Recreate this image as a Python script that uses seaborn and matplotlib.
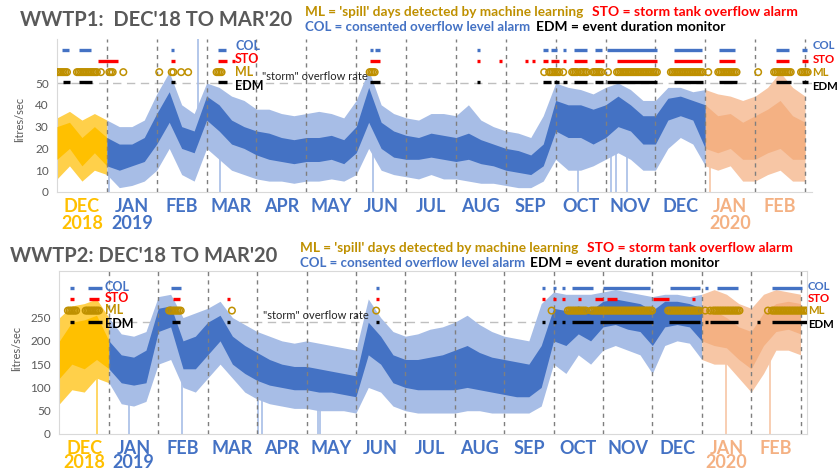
import numpy as np
import seaborn as sns
import matplotlib.pyplot as plt

sns.set_style('white')
plt.rcParams['font.family'] = ['Lato', 'DejaVu Sans']

W, H = 838, 472

# x axis is in months: 0 = 1 Dec 2018 ... 15 = 1 Mar 2020, sampled every quarter month
steps = np.arange(0, 15.01, 0.25)
month_labels = ['DEC\n2018', 'JAN\n2019', 'FEB', 'MAR', 'APR', 'MAY', 'JUN', 'JUL',
                'AUG', 'SEP', 'OCT', 'NOV', 'DEC', 'JAN\n2020', 'FEB']

# WWTP1 flow (litres/sec): outer spikes (lo/hi) and dense core (core_lo/core_hi)
wwtp1_lo = [6, 12, 5, 10, 8, 2, 3, 5, 10, 20, 8, 5, 20, 15, 10, 8, 6, 5, 5, 4, 5, 5, 6, 5,
            8, 20, 10, 8, 7, 6, 8, 6, 6, 5, 4, 4, 3, 2, 2, 5, 15, 10, 10, 12, 15, 18, 15, 10,
            10, 20, 25, 22, 12, 10, 12, 5, 5, 8, 10, 5, 5]
wwtp1_core_lo = [15, 20, 12, 18, 12, 10, 12, 14, 22, 32, 20, 18, 33, 28, 22, 20, 17, 15, 14,
                 13, 14, 14, 15, 13, 18, 32, 20, 16, 15, 15, 16, 15, 14, 15, 13, 12, 10, 9, 8,
                 12, 28, 25, 25, 22, 25, 30, 28, 22, 22, 33, 35, 33, 20, 18, 20, 15, 15, 18,
                 20, 15, 15]
wwtp1_core_hi = [30, 32, 25, 30, 25, 22, 22, 25, 36, 46, 30, 28, 44, 40, 33, 30, 28, 27, 25,
                 24, 25, 25, 26, 24, 30, 48, 32, 28, 26, 25, 27, 26, 25, 27, 24, 22, 20, 19, 17,
                 22, 42, 40, 40, 38, 40, 44, 40, 35, 35, 43, 44, 42, 40, 35, 36, 32, 35, 38,
                 42, 35, 32]
wwtp1_hi = [34, 37, 33, 36, 33, 30, 30, 33, 45, 55, 40, 36, 50, 48, 44, 42, 38, 38, 36, 35,
            36, 37, 36, 34, 42, 56, 40, 36, 34, 33, 36, 36, 35, 40, 33, 30, 28, 27, 25, 35,
            50, 48, 47, 45, 48, 50, 47, 42, 42, 48, 48, 46, 47, 45, 44, 42, 44, 48, 55, 48, 44]
# single readings that stand out of the band (position, bottom, top)
wwtp1_line_x = [1.05, 2.83, 3.27, 6.34, 10.45, 11.1, 11.2, 11.43, 13.1]
wwtp1_line_lo = [0, 12, 0, 0, 0, 0, 0, 0, 0]
wwtp1_line_hi = [25, 70, 40, 45, 40, 40, 38, 35, 30]

# WWTP2 flow (litres/sec)
wwtp2_lo = [65, 95, 90, 120, 110, 65, 60, 70, 150, 160, 100, 90, 120, 150, 120, 90, 75, 65,
            60, 55, 55, 50, 50, 50, 45, 100, 90, 60, 50, 45, 45, 45, 45, 50, 50, 45, 45, 45,
            45, 60, 150, 130, 170, 150, 180, 190, 180, 170, 130, 190, 200, 195, 160, 150,
            150, 120, 90, 130, 180, 180, 170]
wwtp2_core_lo = [120, 150, 140, 160, 140, 110, 105, 110, 220, 230, 140, 140, 170, 200, 150,
                 130, 115, 105, 100, 95, 95, 90, 90, 85, 80, 170, 150, 110, 100, 95, 95, 95,
                 95, 100, 95, 90, 85, 80, 80, 100, 200, 190, 215, 200, 230, 235, 225, 220,
                 190, 230, 235, 230, 200, 190, 185, 160, 140, 190, 220, 225, 215]
wwtp2_core_hi = [200, 240, 245, 255, 200, 170, 165, 180, 270, 275, 200, 210, 240, 255, 210,
                 190, 175, 160, 150, 145, 145, 140, 135, 130, 125, 240, 210, 170, 160, 160,
                 165, 170, 180, 190, 175, 165, 160, 155, 150, 190, 270, 265, 275, 265, 285,
                 290, 285, 280, 265, 285, 285, 280, 270, 265, 250, 230, 220, 260, 280, 285, 280]
wwtp2_hi = [250, 275, 280, 290, 250, 215, 210, 220, 295, 300, 250, 260, 270, 285, 250, 235,
            220, 210, 200, 195, 200, 195, 190, 185, 180, 290, 250, 220, 210, 215, 225, 230,
            240, 255, 235, 220, 210, 205, 200, 280, 305, 300, 300, 300, 305, 310, 305, 300,
            295, 300, 300, 295, 300, 310, 300, 280, 270, 300, 310, 305, 300]
wwtp2_line_x = [0.75, 1.4, 2.47, 4.02, 4.1, 5.24, 5.27, 13.5, 14.38]
wwtp2_line_lo = [0, 0, 0, 0, 0, 0, 0, 0, 0]
wwtp2_line_hi = [250, 120, 160, 120, 120, 80, 80, 200, 250]

# alarm / detection spans (start month, end month)
wwtp1_col = [(0.11, 0.25), (0.44, 0.68), (2.29, 2.35), (3.23, 3.39), (6.28, 6.34), (6.38, 6.48),
             (8.43, 8.43), (9.75, 9.85), (9.9, 10.03), (10.15, 10.15), (10.37, 10.63),
             (10.79, 10.93), (11.03, 12.03), (12.37, 12.94), (13.28, 13.6), (14.42, 14.68),
             (14.94, 15.04)]
wwtp1_sto = [(0.82, 1.23), (2.29, 2.37), (3.23, 3.4), (3.5, 3.5), (6.28, 6.48), (8.43, 8.43),
             (8.87, 8.87), (9.39, 9.39), (9.53, 9.53), (9.75, 9.85), (9.9, 10.06),
             (10.15, 10.15), (10.37, 10.63), (10.79, 10.97), (11.23, 12.03), (12.37, 12.94),
             (13.28, 13.6), (14.42, 14.68), (14.94, 15.05)]
wwtp1_ml = [(0.0, 0.2), (0.4, 0.8), (0.88, 0.88), (1.05, 1.12), (1.33, 1.33), (2.05, 2.05),
            (2.3, 2.36), (2.49, 2.49), (2.63, 2.63), (3.2, 3.3), (6.27, 6.4), (9.77, 9.77),
            (9.87, 10.09), (10.15, 10.15), (10.33, 10.43), (10.49, 10.65), (10.75, 10.93),
            (11.05, 11.05), (11.23, 12.03), (12.31, 12.96), (13.06, 13.06), (13.26, 13.63),
            (14.06, 14.06), (14.38, 14.72), (14.92, 15.08)]
wwtp1_edm = [(0.12, 0.27), (0.44, 0.7), (2.28, 2.37), (3.23, 3.4), (6.28, 6.48), (8.43, 8.43),
             (9.75, 9.9), (9.96, 10.06), (10.15, 10.23), (10.37, 10.63), (10.79, 10.95),
             (11.03, 12.03), (12.37, 12.96), (13.28, 13.63), (14.42, 14.72), (14.94, 15.05)]

wwtp2_col = [(0.21, 0.29), (0.58, 0.86), (2.25, 2.46), (6.41, 6.41), (9.76, 9.76), (9.99, 9.99),
             (10.17, 10.17), (10.37, 10.8), (11.0, 11.95), (12.36, 12.97), (13.07, 13.07),
             (13.31, 13.73), (14.42, 15.03)]
wwtp2_sto = [(0.21, 0.29), (0.6, 0.8), (2.3, 2.44), (3.4, 3.4), (6.41, 6.41), (9.76, 9.76),
             (9.99, 9.99), (10.17, 10.17), (10.49, 10.49), (10.84, 11.0), (11.08, 11.28),
             (12.01, 12.34), (12.8, 12.87)]
wwtp2_ml = [(0.17, 0.35), (0.53, 0.81), (2.22, 2.48), (3.49, 3.49), (6.41, 6.41), (9.96, 9.96),
            (10.29, 10.68), (10.76, 12.01), (12.32, 12.97), (13.07, 13.07), (13.17, 13.17),
            (13.23, 13.77), (14.34, 14.34), (14.42, 15.13)]
wwtp2_edm = [(0.21, 0.3), (0.58, 0.86), (2.27, 2.44), (3.4, 3.4), (6.41, 6.41), (9.76, 9.76),
             (9.99, 9.99), (10.17, 10.17), (10.37, 10.8), (10.94, 12.01), (12.34, 12.97),
             (13.07, 13.07), (13.17, 13.73), (14.12, 14.12), (14.42, 15.13)]

BLUE = '#4472C4'
GOLD = '#FFC000'
PEACH = '#F4B183'
ML_C = '#BF9000'
GREY = '#595959'
# (start, end, core colour, spike colour)
segments = [(0, 1, GOLD, '#FFD04A'), (1, 13, BLUE, '#A7BDE6'), (13, 15, PEACH, '#F7C6A5')]


def seg_color(m):
    for s, e, dark, light in segments:
        if s <= m < e:
            return dark, light
    return segments[-1][2], segments[-1][3]


def draw_panel(ax, lo, core_lo, core_hi, hi, lx, llo, lhi, storm, storm_txt_y,
               col, sto, ml, edm, rows, lab_rows, inner_x, ymax):
    x = steps
    for s, e, dark, light in segments:
        i0, i1 = int(s * 4), int(e * 4) + 1
        ax.fill_between(x[i0:i1], np.array(lo[i0:i1]), np.array(hi[i0:i1]),
                        color=light, lw=0, zorder=2)
        ax.fill_between(x[i0:i1], np.array(core_lo[i0:i1]), np.array(core_hi[i0:i1]),
                        color=dark, lw=0, zorder=3)
    for xi, a, b in zip(lx, llo, lhi):
        ax.vlines(xi, a, b, colors=seg_color(xi)[1], lw=1.2, zorder=2.5)

    ax.axhline(storm, color='#BFBFBF', ls=(0, (6, 4)), lw=1, zorder=1)
    ax.vlines(np.arange(1, 16), 0, ymax, colors='#7F7F7F', linestyles=(0, (3, 3)),
              lw=1, zorder=4)

    for spans, y, c in [(col, rows[0], BLUE), (sto, rows[1], 'red'), (edm, rows[3], 'black')]:
        for s, e in spans:
            ax.hlines(y, s, max(e, s + 0.06), colors=c, lw=2.4, zorder=6)
    xs = np.concatenate([np.arange(s, e + 1e-6, 1 / 30) for s, e in ml])
    sns.scatterplot(x=xs, y=np.full(len(xs), rows[2]), ax=ax, s=22, marker='o',
                    facecolors='none', edgecolor=ML_C, linewidth=1.1, zorder=7, legend=False)

    for txt, c, y in zip(['COL', 'STO', 'ML', 'EDM'], [BLUE, 'red', ML_C, 'black'], lab_rows):
        ax.text(inner_x, y, txt, color=c, fontsize=9, weight='bold', va='center', zorder=8)
        ax.text(15.15, y, txt, color=c, fontsize=8.2, weight='bold', va='center', clip_on=False)
    ax.text(4.11, storm_txt_y, '"storm" overflow rate', fontsize=8, color='#222222',
            va='center', zorder=8)

    ax.set_ylim(0, ymax)
    ax.set_xticks(np.arange(15) + 0.5)
    ax.set_xticklabels(month_labels)
    for i, t in enumerate(ax.get_xticklabels()):
        t.set_color(GOLD if i == 0 else (PEACH if i >= 13 else BLUE))
        t.set_fontsize(13)
        t.set_fontweight('bold')
        t.set_va('top')
    ax.tick_params(axis='both', length=0)
    ax.tick_params(axis='y', labelsize=8.5, labelcolor=GREY, pad=6)
    ax.tick_params(axis='x', pad=4)
    for sp in ax.spines.values():
        sp.set_color('#D9D9D9')


fig = plt.figure(figsize=(W / 100, H / 100), dpi=100)
ax1 = fig.add_axes([57 / W, 1 - 192 / H, 755 / W, 153 / H])
ax2 = fig.add_axes([59 / W, 1 - 434 / H, 748 / W, 163 / H])

draw_panel(ax1, wwtp1_lo, wwtp1_core_lo, wwtp1_core_hi, wwtp1_hi, wwtp1_line_x,
           wwtp1_line_lo, wwtp1_line_hi, 50, 53, wwtp1_col, wwtp1_sto, wwtp1_ml, wwtp1_edm,
           [65, 60, 55, 50.5], [67, 61, 55, 48.5], 3.57, 70.2)
ax1.set_xlim(0, 15.14)
ax1.set_yticks([0, 10, 20, 30, 40, 50])
ax1.spines['top'].set_visible(False)
ax1.spines['right'].set_visible(False)
for t in ax1.get_xticklabels():
    t.set_linespacing(1.05)

draw_panel(ax2, wwtp2_lo, wwtp2_core_lo, wwtp2_core_hi, wwtp2_hi, wwtp2_line_x,
           wwtp2_line_lo, wwtp2_line_hi, 240, 254, wwtp2_col, wwtp2_sto, wwtp2_ml, wwtp2_edm,
           [314, 290, 265, 240], [316, 291, 266, 236], 0.92, 350)
ax2.set_xlim(-0.01, 15.13)
ax2.set_yticks([0, 50, 100, 150, 200, 250])
for t in ax2.get_xticklabels():
    t.set_linespacing(0.85)


def ftext(x, y, s, **kw):
    fig.text(x / W, 1 - y / H, s, va='center', **kw)


ftext(20, 20, "WWTP1:  DEC'18 TO MAR'20", fontsize=14.5, weight='bold', color=GREY)
ftext(10, 256, "WWTP2: DEC'18 TO MAR'20", fontsize=14.5, weight='bold', color=GREY)
for y0, xs in [(12, (305, 592, 305, 536)), (248, (300, 587, 300, 530))]:
    ftext(xs[0], y0, "ML = 'spill' days detected by machine learning", color=ML_C,
          fontsize=9.8, weight='bold')
    ftext(xs[1], y0, "STO = storm tank overflow alarm", color='red', fontsize=10,
          weight='bold')
    ftext(xs[2], y0 + 15, "COL = consented overflow level alarm", color=BLUE, fontsize=9.5,
          weight='bold')
    ftext(xs[3], y0 + 15, "EDM = event duration monitor", color='black', fontsize=9.9,
          weight='bold')
fig.text(20 / W, 1 - 119 / H, 'litres/sec', rotation=90, fontsize=8, color=GREY,
         va='center', ha='center')
fig.text(17 / W, 1 - 348 / H, 'litres/sec', rotation=90, fontsize=8, color=GREY,
         va='center', ha='center')

fig.savefig('out.png', dpi=100)
